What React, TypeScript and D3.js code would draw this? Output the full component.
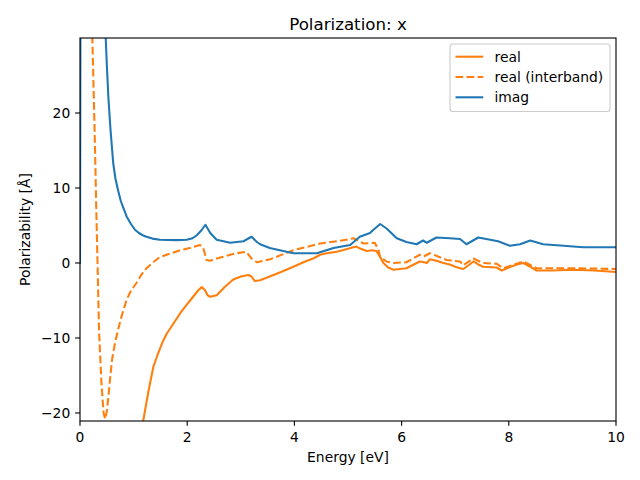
import React from "react";
import * as d3 from "d3";

const realE = [0.9, 1.05, 1.18, 1.28, 1.37, 1.45, 1.55, 1.62, 1.75, 1.87, 2.0, 2.11, 2.2, 2.27, 2.33, 2.38, 2.43, 2.55, 2.7, 2.86, 3.0, 3.14, 3.2, 3.26, 3.36, 3.54, 3.75, 3.98, 4.2, 4.35, 4.48, 4.6, 4.79, 4.95, 5.1, 5.16, 5.2, 5.35, 5.45, 5.53, 5.6, 5.66, 5.75, 5.85, 6.09, 6.2, 6.34, 6.42, 6.47, 6.53, 6.65, 6.78, 6.9, 7.0, 7.09, 7.15, 7.25, 7.34, 7.43, 7.52, 7.77, 7.87, 8.0, 8.15, 8.27, 8.4, 8.52, 8.8, 9.2, 9.6, 10];
const realV = [-45, -30, -21, -17, -13.8, -12.2, -10.4, -9.4, -8, -6.7, -5.5, -4.5, -3.7, -3.2, -3.6, -4.3, -4.5, -4.3, -3.2, -2.2, -1.8, -1.6, -1.8, -2.4, -2.3, -1.8, -1.2, -0.5, 0.2, 0.6, 1.1, 1.3, 1.5, 1.8, 2.1, 2.2, 2.0, 1.6, 1.7, 1.6, 0.8, 0, -0.6, -0.9, -0.7, -0.3, 0.2, 0.1, 0, 0.5, 0.3, 0, -0.2, -0.5, -0.7, -0.8, -0.3, 0.2, -0.2, -0.5, -0.6, -1.0, -0.6, -0.2, 0, -0.5, -1.0, -1.0, -0.9, -1.0, -1.2];

const interE = [0.2, 0.23, 0.275, 0.3, 0.33, 0.355, 0.4, 0.44, 0.47, 0.5, 0.53, 0.56, 0.6, 0.65, 0.71, 0.78, 0.87, 0.95, 1.06, 1.15, 1.24, 1.35, 1.49, 1.87, 2.1, 2.24, 2.3, 2.36, 2.43, 2.6, 2.92, 3.1, 3.2, 3.3, 3.55, 3.98, 4.48, 4.8, 5.04, 5.1, 5.29, 5.5, 5.57, 5.6, 5.72, 5.85, 6.09, 6.34, 6.42, 6.53, 6.84, 7.09, 7.15, 7.34, 7.52, 7.77, 7.9, 8.27, 8.52, 9.2, 10];
const interV = [45, 30, 17, 8.4, -1, -9, -16, -20, -20.8, -19.8, -17.8, -15.5, -12.8, -10.8, -8.9, -7, -4.9, -3.7, -2.6, -1.5, -0.7, 0, 0.8, 1.7, 2.1, 2.4, 2.0, 0.4, 0.3, 0.7, 1.3, 1.5, 0.6, 0.1, 0.5, 1.7, 2.6, 2.9, 3.2, 3.3, 2.6, 2.7, 1.7, 0.8, 0.2, 0, 0.1, 1.1, 0.9, 1.3, 0.4, 0.2, -0.3, 0.6, 0, -0.1, -0.7, 0.2, -0.7, -0.7, -0.8];

const imagE = [0, 0.015, 0.03, 0.3, 0.45, 0.48, 0.5, 0.53, 0.57, 0.62, 0.66, 0.71, 0.76, 0.8, 0.87, 0.95, 1.03, 1.1, 1.17, 1.24, 1.35, 1.49, 1.8, 1.99, 2.1, 2.18, 2.27, 2.34, 2.43, 2.55, 2.8, 3.05, 3.2, 3.3, 3.36, 3.54, 3.98, 4.42, 4.73, 5.04, 5.22, 5.41, 5.47, 5.6, 5.72, 5.91, 6.09, 6.28, 6.4, 6.47, 6.65, 6.9, 7.09, 7.21, 7.43, 7.8, 8.02, 8.21, 8.4, 8.64, 9.02, 9.39, 10];
const imagV = [0, 60, 200, 70, 34, 30, 26.5, 22, 17.7, 13.3, 11.3, 9.7, 8.3, 7.5, 6.2, 5.2, 4.4, 4.0, 3.7, 3.5, 3.25, 3.1, 3.05, 3.1, 3.3, 3.7, 4.4, 5.1, 4.0, 3.1, 2.7, 2.9, 3.5, 2.8, 2.5, 2.0, 1.3, 1.3, 2.0, 2.4, 3.5, 4.0, 4.4, 5.2, 4.6, 3.3, 2.8, 2.5, 3.0, 2.7, 3.4, 3.3, 3.2, 2.5, 3.4, 2.9, 2.3, 2.5, 3.0, 2.5, 2.3, 2.1, 2.1];

const xTicks = [0, 2, 4, 6, 8, 10];
const yTicks = [-20, -10, 0, 10, 20];
const legendLabels = ["real", "real (interband)", "imag"];

const ORANGE = "#ff7f0e";
const BLUE = "#1f77b4";

export default function App() {
  const W = 640, H = 480;
  const left = 80, right = 616, top = 38, bottom = 421;
  const x = d3.scaleLinear().domain([0, 10]).range([left, right]);
  const y = d3.scaleLinear().domain([-21.07, 30]).range([bottom, top]);
  const line = d3.line<[number, number]>().x(d => x(d[0])).y(d => y(d[1]));
  const zip = (a: number[], b: number[]) => a.map((v, i) => [v, b[i]] as [number, number]);
  const font = "DejaVu Sans, sans-serif";
  const fmt = (v: number) => (v < 0 ? "\u2212" + Math.abs(v) : String(v));
  const fs = 13.89;
  const tl = 4.86;
  const dash = "7.7 3.33";

  const series = [
    { d: line(zip(realE, realV)), color: ORANGE, dash: undefined },
    { d: line(zip(interE, interV)), color: ORANGE, dash },
    { d: line(zip(imagE, imagV)), color: BLUE, dash: undefined },
  ];

  const lg = { x: 450, y: 44, w: 160, h: 67.5 };
  const legendItems = [
    { color: ORANGE, dash: undefined },
    { color: ORANGE, dash },
    { color: BLUE, dash: undefined },
  ];

  return (
    <svg width={W} height={H} style={{ position: "absolute", left: 0, top: 0, background: "#fff" }} fontFamily={font}>
      <defs>
        <clipPath id="plotclip">
          <rect x={left} y={top} width={right - left} height={bottom - top} />
        </clipPath>
      </defs>
      <rect x={0} y={0} width={W} height={H} fill="#fff" />
      <g clipPath="url(#plotclip)">
        {series.map((s, i) => (
          <path key={i} d={s.d || ""} fill="none" stroke={s.color} strokeWidth={2.08} strokeDasharray={s.dash} strokeLinejoin="round" strokeLinecap={s.dash ? "butt" : "square"} />
        ))}
      </g>
      <rect x={left} y={top} width={right - left} height={bottom - top} fill="none" stroke="#000" strokeWidth={1.11} />
      {xTicks.map(t => (
        <g key={"x" + t}>
          <line x1={x(t)} x2={x(t)} y1={bottom} y2={bottom + tl} stroke="#000" strokeWidth={1.11} />
          <text x={x(t)} y={bottom + 20.5} fontSize={fs} textAnchor="middle">{fmt(t)}</text>
        </g>
      ))}
      {yTicks.map(t => (
        <g key={"y" + t}>
          <line x1={left - tl} x2={left} y1={y(t)} y2={y(t)} stroke="#000" strokeWidth={1.11} />
          <text x={left - 2 * tl} y={y(t) + 5} fontSize={fs} textAnchor="end">{fmt(t)}</text>
        </g>
      ))}
      <text x={(left + right) / 2} y={462} fontSize={fs} textAnchor="middle">Energy [eV]</text>
      <text transform={`translate(30, ${(top + bottom) / 2}) rotate(-90)`} fontSize={fs} textAnchor="middle">Polarizability [Å]</text>
      <text x={(left + right) / 2} y={29.7} fontSize={16.67} textAnchor="middle">Polarization: x</text>
      <g>
        <rect x={lg.x} y={lg.y} width={lg.w} height={lg.h} rx={3} fill="#fff" fillOpacity={0.8} stroke="#cccccc" strokeWidth={1.11} />
        {legendItems.map((it, i) => {
          const cy = 56.7 + i * 20.3;
          return (
            <g key={i}>
              <line x1={455.5} x2={483.3} y1={cy} y2={cy} stroke={it.color} strokeWidth={2.08} strokeDasharray={it.dash} />
              <text x={494.5} y={cy + 4.9} fontSize={fs}>{legendLabels[i]}</text>
            </g>
          );
        })}
      </g>
    </svg>
  );
}
